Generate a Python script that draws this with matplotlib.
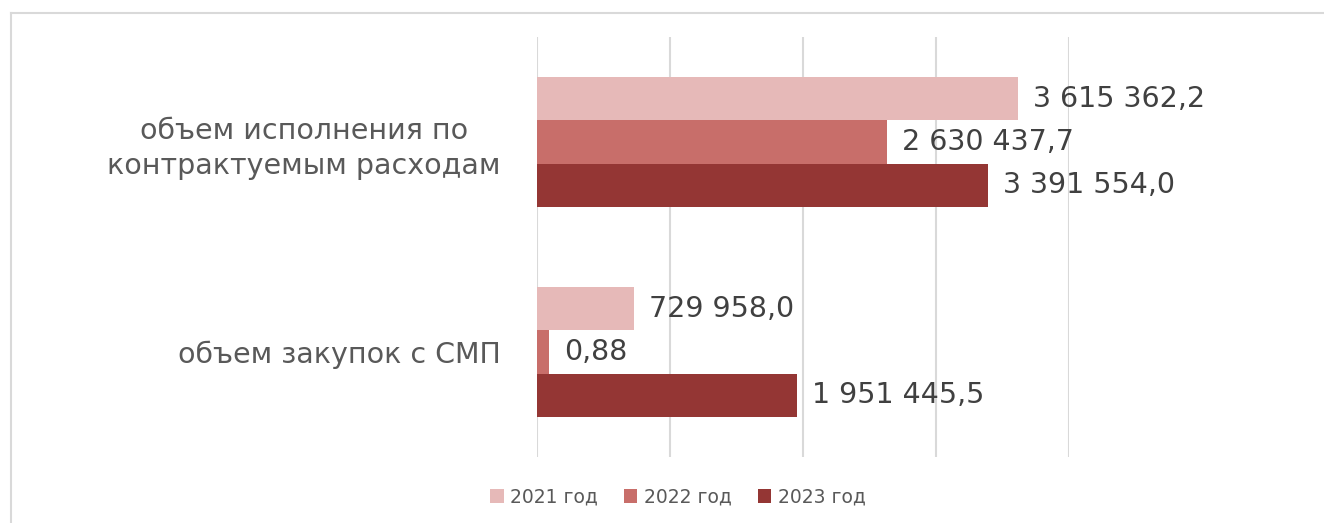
import matplotlib.pyplot as plt
import numpy as np
from matplotlib.lines import Line2D

categories = ['объем исполнения по\nконтрактуемым расходам', 'объем закупок с СМП']
years = ['2021 год', '2022 год', '2023 год']
v2021 = [3615362.2, 729958.0]
v2022 = [2630437.7, 90000.0]   # bar drawn wider than the 0,88 label in the source
v2023 = [3391554.0, 1951445.5]
lab2021 = ['3 615 362,2', '729 958,0']
lab2022 = ['2 630 437,7', '0,88']
lab2023 = ['3 391 554,0', '1 951 445,5']
colors = ['#E6B9B8', '#C86E6A', '#943634']

plt.rcParams['font.family'] = ['DejaVu Sans']

fig = plt.figure(figsize=(13.24, 5.23), dpi=100)
ax = fig.add_axes([537/1324, 1 - 457/523, (1069 - 537)/1324, 420/523])

y = np.arange(len(categories))
h = 0.207
series = [(v2021, lab2021), (v2022, lab2022), (v2023, lab2023)]
for i, ((vals, labs), c, name) in enumerate(zip(series, colors, years)):
    pos = y + (i - 1) * h
    bars = ax.barh(pos, vals, height=h, color=c, label=name, zorder=3)
    for b, t in zip(bars, labs):
        ax.text(b.get_width() + 115000, b.get_y() + b.get_height() / 2, t,
                va='center', ha='left', fontsize=20.5, color='#404040', zorder=4)

ax.set_xlim(0, 4000000)
ax.set_ylim(1.5, -0.5)
ax.set_xticks(np.arange(0, 4000001, 1000000))
ax.set_xticklabels([])
ax.tick_params(length=0)
ax.grid(axis='x', color='#D9D9D9', linewidth=1.5, zorder=0)
for s in ax.spines.values():
    s.set_visible(False)
ax.set_yticks(y)
ax.set_yticklabels(categories, fontsize=20.5, color='#595959', linespacing=1.3,
                   multialignment='center')
ax.tick_params(axis='y', pad=26)

leg = fig.legend(loc='center', bbox_to_anchor=(678/1324, 1 - 497/523), ncol=3,
                 frameon=False, fontsize=13.5, handlelength=0.7, handleheight=0.7,
                 handletextpad=0.35, columnspacing=1.4, labelcolor='#595959')

# chart frame (top and left edges visible)
fig.add_artist(Line2D([11/1324, 1], [1 - 13/523, 1 - 13/523], color='#D9D9D9', lw=1.5))
fig.add_artist(Line2D([11/1324, 11/1324], [0, 1 - 13/523], color='#D9D9D9', lw=1.5))

fig.savefig('out.png', dpi=100)
